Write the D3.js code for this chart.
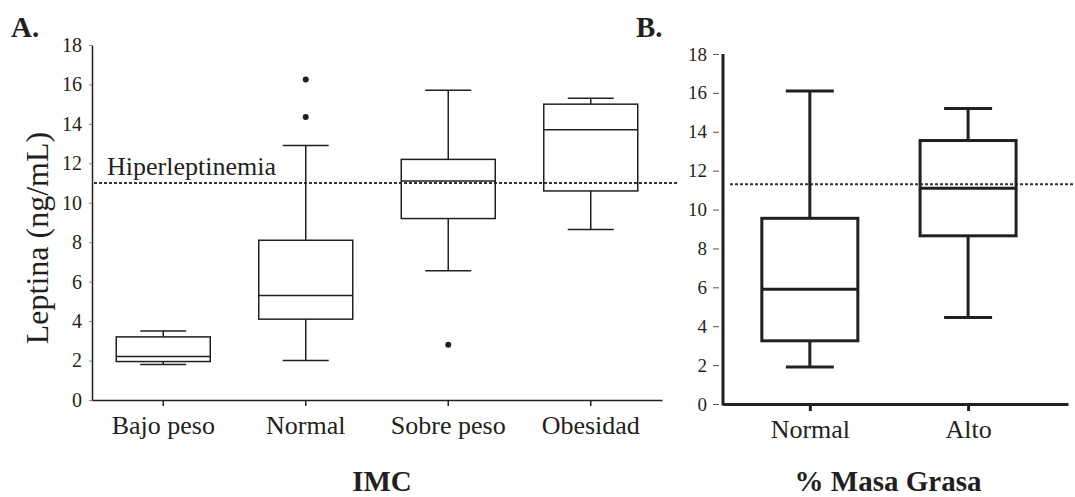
<!DOCTYPE html>
<html>
<head>
<meta charset="utf-8">
<script src="https://cdn.jsdelivr.net/npm/d3@7"></script>
<style>
  body { margin: 0; background: #fff; }
  svg text { font-family: "Liberation Serif", "Times New Roman", serif; fill: #231f20; }
</style>
</head>
<body>
<svg id="vis" width="1075" height="497"></svg>
<script>
// Panel A: leptina por IMC
const catsA = ["Bajo peso", "Normal", "Sobre peso", "Obesidad"];
const lowA = [1.8, 2.0, 6.55, 8.65];
const q1A = [1.95, 4.1, 9.2, 10.6];
const medA = [2.2, 5.3, 11.1, 13.7];
const q3A = [3.2, 8.1, 12.2, 15.0];
const highA = [3.5, 12.9, 15.7, 15.3];
const outA = [[], [16.25, 14.35], [2.8], []];
const hiperA = 11;

// Panel B: leptina por % masa grasa
const catsB = ["Normal", "Alto"];
const lowB = [1.9, 4.45];
const q1B = [3.25, 8.65];
const medB = [5.9, 11.1];
const q3B = [9.55, 13.55];
const highB = [16.1, 15.2];
const hiperB = 11.3;

const yTicks = [0, 2, 4, 6, 8, 10, 12, 14, 16, 18];

const svg = d3.select("svg#vis");
const ink = "#231f20";
const serif = "'Liberation Serif', 'Times New Roman', serif";

// ---------- panel A ----------
const gA = svg.append("g").attr("id", "panelA");
const xA = d3.scaleBand().domain(catsA).range([92, 662]);
const yA = d3.scaleLinear().domain([0, 18]).range([400, 45]);

gA.append("g")
  .attr("transform", "translate(92,0)")
  .call(d3.axisLeft(yA).tickValues(yTicks).tickSize(3).tickPadding(7).tickSizeOuter(0))
  .attr("font-family", serif)
  .call(g => g.select(".domain").attr("stroke", ink).attr("stroke-width", 1.5))
  .call(g => g.selectAll(".tick line").attr("stroke", "#888"))
  .call(g => g.selectAll(".tick text").attr("font-size", 20).style("fill", ink));

gA.append("g")
  .attr("transform", "translate(0,400)")
  .call(d3.axisBottom(xA).tickSize(6).tickPadding(5).tickSizeOuter(0))
  .attr("font-family", serif)
  .call(g => g.select(".domain").attr("stroke", ink).attr("stroke-width", 1.5))
  .call(g => g.selectAll(".tick line").attr("stroke", ink).attr("stroke-width", 1.5))
  .call(g => g.selectAll(".tick text").attr("font-size", 26).attr("dy", "0.9em").style("fill", ink));

// hiperleptinemia line
gA.append("line")
  .attr("x1", 94).attr("x2", 678)
  .attr("y1", yA(hiperA)).attr("y2", yA(hiperA))
  .attr("stroke", "#333").attr("stroke-width", 2)
  .attr("stroke-dasharray", "3,2");

gA.append("text")
  .attr("x", 107).attr("y", yA(hiperA) - 8)
  .attr("font-size", 26)
  .text("Hiperleptinemia");

function drawBoxes(g, cats, x, y, lo, q1, med, q3, hi, boxW, capW, sw) {
  cats.forEach(function(c, i) {
    const cx = x(c) + (x.bandwidth ? x.bandwidth() / 2 : 0);
    const box = g.append("g").attr("class", "box")
      .attr("fill", "none").attr("stroke", ink).attr("stroke-width", sw);
    box.append("line").attr("x1", cx).attr("x2", cx).attr("y1", y(hi[i])).attr("y2", y(q3[i]));
    box.append("line").attr("x1", cx).attr("x2", cx).attr("y1", y(q1[i])).attr("y2", y(lo[i]));
    box.append("line").attr("x1", cx - capW / 2).attr("x2", cx + capW / 2).attr("y1", y(hi[i])).attr("y2", y(hi[i]));
    box.append("line").attr("x1", cx - capW / 2).attr("x2", cx + capW / 2).attr("y1", y(lo[i])).attr("y2", y(lo[i]));
    box.append("rect")
      .attr("x", cx - boxW / 2).attr("width", boxW)
      .attr("y", y(q3[i])).attr("height", y(q1[i]) - y(q3[i]));
    box.append("line").attr("x1", cx - boxW / 2).attr("x2", cx + boxW / 2).attr("y1", y(med[i])).attr("y2", y(med[i]));
  });
}

drawBoxes(gA, catsA, xA, yA, lowA, q1A, medA, q3A, highA, 94, 46, 1.5);

// outliers
catsA.forEach(function(c, i) {
  gA.selectAll(null)
    .data(outA[i])
    .enter()
    .append("circle")
    .attr("cx", xA(c) + xA.bandwidth() / 2)
    .attr("cy", d => yA(d))
    .attr("r", 3)
    .attr("fill", ink);
});

gA.append("text")
  .attr("transform", "translate(48,238) rotate(-90)")
  .attr("text-anchor", "middle")
  .attr("font-size", 32)
  .text("Leptina (ng/mL)");

gA.append("text").attr("x", 11).attr("y", 37)
  .attr("font-size", 29).attr("font-weight", "bold").text("A.");

gA.append("text").attr("x", 382).attr("y", 491)
  .attr("text-anchor", "middle")
  .attr("font-size", 29).attr("font-weight", "bold").text("IMC");

// ---------- panel B ----------
const gB = svg.append("g").attr("id", "panelB");
const xB = d3.scalePoint().domain(catsB).range([723, 1068]).padding(0.59).align(0.465);
const yB = d3.scaleLinear().domain([0, 18]).range([404, 54]);

gB.append("g")
  .attr("transform", "translate(723,0)")
  .call(d3.axisLeft(yB).tickValues(yTicks).tickSize(0).tickPadding(16))
  .attr("font-family", serif)
  .call(g => g.select(".domain").remove())
  .call(g => g.selectAll(".tick text").attr("font-size", 19).style("fill", ink))
  .call(g => g.selectAll(".tick").append("line")
    .attr("x1", -10).attr("x2", -4).attr("stroke", "#555").attr("stroke-width", 1));

gB.append("line")
  .attr("x1", 723).attr("x2", 723).attr("y1", yB(18)).attr("y2", yB(0) + 1.5)
  .attr("stroke", ink).attr("stroke-width", 3);

gB.append("g")
  .attr("transform", "translate(0,404)")
  .call(d3.axisBottom(xB).tickSize(7).tickPadding(5).tickSizeOuter(0))
  .attr("font-family", serif)
  .call(g => g.select(".domain").attr("stroke", ink).attr("stroke-width", 3))
  .call(g => g.selectAll(".tick line").attr("stroke", ink).attr("stroke-width", 3))
  .call(g => g.selectAll(".tick text").attr("font-size", 26).attr("dy", "0.85em").style("fill", ink));

gB.append("line")
  .attr("x1", 730).attr("x2", 1075)
  .attr("y1", yB(hiperB)).attr("y2", yB(hiperB))
  .attr("stroke", "#333").attr("stroke-width", 2)
  .attr("stroke-dasharray", "3,2");

drawBoxes(gB, catsB, xB, yB, lowB, q1B, medB, q3B, highB, 96, 48, 3);

gB.append("text").attr("x", 636).attr("y", 37)
  .attr("font-size", 29).attr("font-weight", "bold").text("B.");

gB.append("text").attr("x", 888).attr("y", 491)
  .attr("text-anchor", "middle")
  .attr("font-size", 29).attr("font-weight", "bold").text("% Masa Grasa");
</script>
</body>
</html>
